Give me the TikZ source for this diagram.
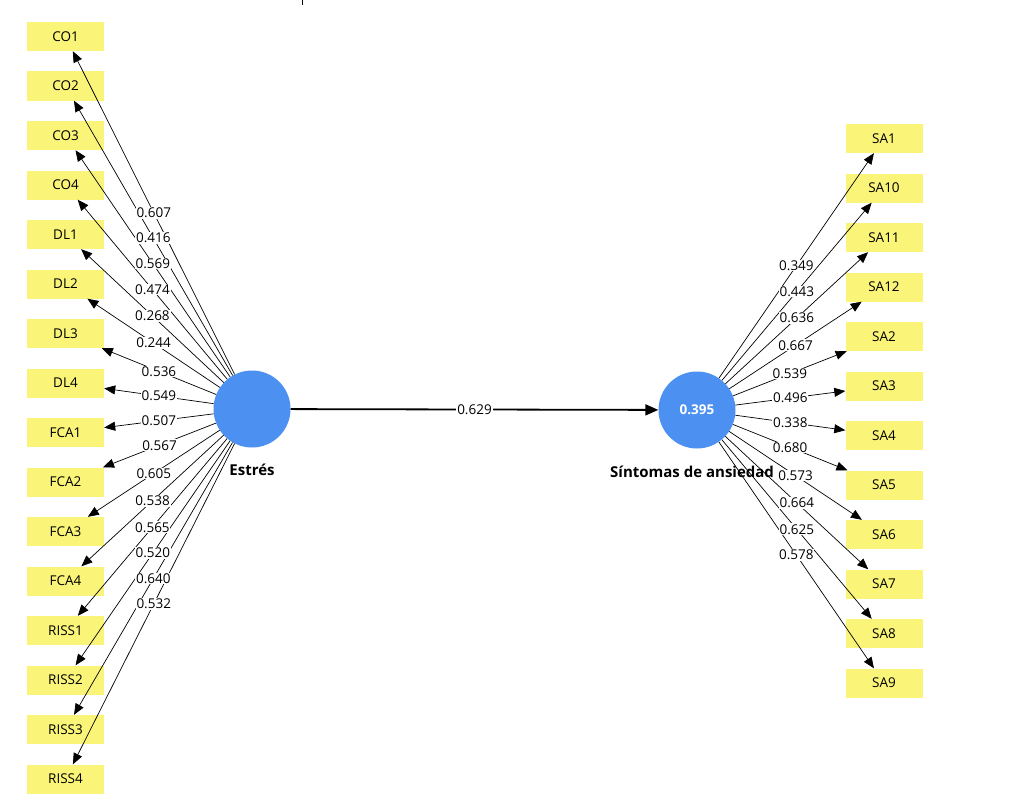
\documentclass[tikz,border=0pt]{standalone}
\usepackage{fontspec}
\setmainfont{Open Sans}
\usetikzlibrary{arrows.meta}
\definecolor{ind}{RGB}{250,245,120}
\definecolor{lv}{RGB}{76,145,242}
\begin{document}
\begin{tikzpicture}[x=1pt,y=-1pt,
  indbox/.style={rectangle, fill=ind, minimum width=77pt, minimum height=29pt, inner sep=0pt, font=\fontsize{13.5}{15}\selectfont},
  latent/.style={circle, fill=lv, minimum size=77pt, inner sep=0pt, font=\bfseries\fontsize{13.5}{15}\selectfont, text=white},
  load/.style={draw=black, line width=0.7pt, -{Triangle[length=11pt,width=9pt]}},
  mainpath/.style={draw=black, line width=1.8pt, -{Triangle[length=13pt,width=11pt]}},
  coef/.style={fill=white, inner sep=0.8pt, font=\fontsize{13.5}{15}\selectfont},
  lvname/.style={font=\bfseries\fontsize{15}{17}\selectfont, inner sep=0pt}]
\useasboundingbox (0,0) rectangle (1020,808);
\fill[white] (0,0) rectangle (1020,808);
\draw[line width=1pt] (302,0) -- (302,5);

% latent variables
\node[latent] (E) at (252,409) {};
\node[latent] (S) at (697,410) {0.395};
\node[lvname] (Elab) at (252,470) {Estrés};
\node[lvname, anchor=west] (Slab) at (610,472) {Síntomas de ansiedad};

% indicators left
\foreach \n/\v [count=\i from 0] in {CO1/0.607,CO2/0.416,CO3/0.569,CO4/0.474,DL1/0.268,DL2/0.244,DL3/0.536,DL4/0.549,FCA1/0.507,FCA2/0.567,FCA3/0.605,FCA4/0.538,RISS1/0.565,RISS2/0.520,RISS3/0.640,RISS4/0.532}
  \node[indbox] (\n) at (65.5,36.5+49.5*\i) {\n};
% indicators right
\foreach \n/\v [count=\i from 0] in {SA1/0.349,SA10/0.443,SA11/0.636,SA12/0.667,SA2/0.539,SA3/0.496,SA4/0.338,SA5/0.680,SA6/0.573,SA7/0.664,SA8/0.625,SA9/0.578}
  \node[indbox] (\n) at (884,138.5+49.5*\i) {\n};

% loading connectors
\foreach \n in {CO1,CO2,CO3,CO4,DL1,DL2,DL3,DL4,FCA1,FCA2,FCA3,FCA4,RISS1,RISS2,RISS3,RISS4}
  \draw[load] (E) -- (\n) coordinate[midway] (m\n);
\foreach \n in {SA1,SA10,SA11,SA12,SA2,SA3,SA4,SA5,SA6,SA7,SA8,SA9}
  \draw[load] (S) -- (\n) coordinate[midway] (m\n);

% structural path
\draw[mainpath] (E) -- (S) coordinate[midway] (mES);

% labels
\foreach \n/\v in {CO1/0.607,CO2/0.416,CO3/0.569,CO4/0.474,DL1/0.268,DL2/0.244,DL3/0.536,DL4/0.549,FCA1/0.507,FCA2/0.567,FCA3/0.605,FCA4/0.538,RISS1/0.565,RISS2/0.520,RISS3/0.640,RISS4/0.532,SA1/0.349,SA10/0.443,SA11/0.636,SA12/0.667,SA2/0.539,SA3/0.496,SA4/0.338,SA5/0.680,SA6/0.573,SA7/0.664,SA8/0.625,SA9/0.578}
  \node[coef] (l\n) at (m\n) {\v};
\node[coef] (lES) at (mES) {0.629};
\end{tikzpicture}
\end{document}
